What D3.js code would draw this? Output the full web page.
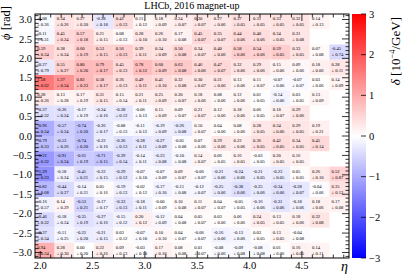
<!DOCTYPE html>
<html><head><meta charset="utf-8">
<script src="https://cdn.jsdelivr.net/npm/d3@7"></script>
<style>body{margin:0;background:#fff} svg{display:block}</style>
</head><body><svg id="c" width="407" height="276"></svg>
<script>
// ---- data ----
const etaEdges = [1.95,2.1375,2.325,2.5125,2.7,2.8875,3.075,3.2625,3.45,3.6375,3.825,4.0125,4.2,4.3875,4.575,4.7625,4.95];
const phiEdges = [3.1416,2.7489,2.3562,1.9635,1.5708,1.1781,0.7854,0.3927,0,-0.3927,-0.7854,-1.1781,-1.5708,-1.9635,-2.3562,-2.7489,-3.1416];
// rows from top (phi high) to bottom; null = empty bin
const delta = [
 [-0.08,0.34,0.27,-0.28,0.41,0.11,0.18,0.24,0.30,0.27,0.37,0.31,0.33,0.32,0.14,null],
 [-0.11,0.45,0.57,0.21,0.08,0.28,0.26,0.17,0.45,0.35,0.44,0.40,0.34,0.31,null,null],
 [0.59,0.38,0.60,0.53,0.56,0.39,0.34,0.50,0.34,0.40,0.58,0.54,0.59,0.33,0.07,-0.45],
 [-0.27,0.55,0.80,0.79,0.45,0.78,0.60,0.63,0.46,0.47,0.32,0.29,0.15,0.09,0.18,0.28],
 [1.58,1.27,0.82,0.58,0.36,0.49,0.41,0.32,0.30,0.31,0.13,0.11,-0.07,-0.07,0.03,0.14],
 [0.28,0.13,0.17,0.31,0.15,0.21,0.25,0.20,0.18,0.08,0.12,0.01,-0.14,0.03,0.13,null],
 [-0.37,-0.36,-0.17,-0.24,-0.28,-0.06,0.15,0.09,0.21,0.12,0.18,0.06,0.18,0.29,null,null],
 [-0.96,-0.57,-0.74,-0.26,-0.08,-0.11,-0.19,-0.26,0.10,0.04,0.08,0.28,0.34,0.29,0.19,null],
 [-0.79,-0.53,-0.74,-0.22,-0.36,-0.28,-0.27,-0.05,0.07,0.29,0.22,0.36,0.42,0.34,0.45,null],
 [-1.21,-0.91,-0.61,-0.71,-0.39,-0.14,-0.23,-0.10,0.14,0.06,0.16,-0.03,0.20,0.16,null,null],
 [-1.29,-0.18,-0.41,-0.22,-0.29,-0.07,-0.07,0.09,-0.06,-0.21,-0.24,-0.21,-0.23,0.05,0.26,0.52],
 [-0.82,-0.44,-0.14,0.05,-0.19,-0.02,-0.17,-0.11,-0.12,-0.25,-0.38,-0.25,-0.34,-0.28,-0.04,0.35],
 [-0.16,0.14,-0.53,-0.17,-0.33,-0.18,-0.00,0.10,0.11,0.04,-0.05,-0.16,-0.31,-0.18,0.18,0.17],
 [-0.46,-0.18,-0.35,-0.27,-0.15,0.20,-0.12,0.04,0.05,0.03,0.06,0.24,0.13,0.18,0.32,null],
 [-0.37,-0.11,-0.22,-0.21,0.03,-0.07,0.10,0.04,-0.06,-0.16,-0.13,0.03,0.13,-0.04,null,null],
 [0.94,0.28,0.00,0.22,0.09,-0.03,0.17,0.08,0.01,-0.08,-0.09,-0.08,0.01,0.16,0.14,null]
];
const sigma = [
 [0.36,0.26,0.20,0.18,0.13,0.12,0.09,0.07,0.07,0.06,0.05,0.05,0.05,0.05,0.13,null],
 [0.31,0.24,0.18,0.15,0.13,0.10,0.10,0.08,0.07,0.07,0.06,0.06,0.05,0.08,null,null],
 [0.34,0.24,0.19,0.15,0.13,0.11,0.09,0.08,0.07,0.06,0.06,0.06,0.05,0.05,0.08,0.74],
 [0.79,0.27,0.20,0.17,0.13,0.12,0.09,0.08,0.06,0.07,0.06,0.06,0.06,0.06,0.06,0.11],
 [0.62,0.24,0.23,0.17,0.13,0.11,0.10,0.08,0.07,0.06,0.06,0.07,0.06,0.07,0.06,0.09],
 [0.36,0.28,0.19,0.15,0.14,0.11,0.09,0.07,0.06,0.06,0.06,0.05,0.06,0.05,0.09,null],
 [0.32,0.24,0.19,0.16,0.12,0.12,0.09,0.07,0.07,0.06,0.06,0.05,0.07,0.06,null,null],
 [0.34,0.24,0.20,0.17,0.13,0.12,0.09,0.08,0.07,0.06,0.06,0.05,0.06,0.05,0.21,null],
 [0.33,0.26,0.20,0.16,0.13,0.11,0.09,0.08,0.06,0.06,0.06,0.05,0.05,0.05,0.14,null],
 [0.32,0.24,0.19,0.15,0.14,0.11,0.08,0.08,0.07,0.05,0.05,0.05,0.05,0.05,null,null],
 [0.33,0.24,0.21,0.15,0.12,0.10,0.09,0.07,0.07,0.06,0.06,0.05,0.05,0.05,0.10,0.87],
 [0.68,0.27,0.21,0.16,0.13,0.12,0.10,0.08,0.07,0.06,0.06,0.06,0.06,0.07,0.06,0.12],
 [0.57,0.29,0.21,0.17,0.13,0.11,0.09,0.08,0.07,0.07,0.05,0.06,0.06,0.06,0.06,0.08],
 [0.32,0.24,0.19,0.16,0.12,0.12,0.09,0.08,0.07,0.06,0.06,0.05,0.05,0.06,0.08,null],
 [0.34,0.25,0.20,0.15,0.12,0.10,0.10,0.07,0.07,0.06,0.06,0.05,0.05,0.08,null,null],
 [0.34,0.30,0.20,0.16,0.13,0.10,0.10,0.08,0.07,0.06,0.08,0.08,0.06,0.05,0.11,null]
];
const xTicks = [2.0,2.5,3.0,3.5,4.0,4.5];
const yTicks = [-3.0,-2.5,-2.0,-1.5,-1.0,-0.5,0.0,0.5,1.0,1.5,2.0,2.5,3.0];
const zTicks = [-3,-2,-1,0,1,2,3];
const title = "LHCb, 2016 magnet-up";

// ---- layout ----
const svg = d3.select("#c");
const L=35, R=349, T=14, B=258;
const serif = "'Liberation Serif','DejaVu Serif',serif";
const x = d3.scaleLinear().domain([etaEdges[0], etaEdges[etaEdges.length-1]]).range([L,R]);
const y = d3.scaleLinear().domain([-Math.PI, Math.PI]).range([B,T]);
const color = d3.scaleLinear().domain([-3,0,3]).range(["#0000ff","#ffffff","#ff0000"]).clamp(true);
const fmt = v => (v<0||Object.is(v,-0)?"-":"")+Math.abs(v).toFixed(2);

const cells = [];
delta.forEach((row,i)=>row.forEach((v,j)=>{ if(v!==null) cells.push({i,j,v,s:sigma[i][j]}); }));

const g = svg.append("g");
g.selectAll("rect.cell").data(cells).join("rect").attr("class","cell")
  .attr("x",d=>x(etaEdges[d.j])).attr("width",d=>x(etaEdges[d.j+1])-x(etaEdges[d.j]))
  .attr("y",d=>y(phiEdges[d.i])).attr("height",d=>y(phiEdges[d.i+1])-y(phiEdges[d.i]))
  .attr("fill",d=>color(d.v));
const txt = g.selectAll("g.lab").data(cells).join("g").attr("class","lab")
  .attr("font-family",serif).attr("font-size",4.6).attr("fill","#000");
txt.append("text").attr("x",d=>x(etaEdges[d.j])+2.2).attr("y",d=>y(phiEdges[d.i])+6.0).text(d=>fmt(d.v));
txt.append("text").attr("x",d=>x(etaEdges[d.j])+2.2).attr("y",d=>y(phiEdges[d.i])+12.0).text(d=>"± "+d.s.toFixed(2));

// frame
svg.append("rect").attr("x",L).attr("y",T).attr("width",R-L).attr("height",B-T)
  .attr("fill","none").attr("stroke","#000").attr("stroke-width",1);

// ticks (inside, all four sides)
const xMinor = d3.range(20,50).map(k=>k/10).filter(v=>v>=x.domain()[0]&&v<=x.domain()[1]);
const yMinor = d3.range(-31,32).map(k=>k/10);
const tk = svg.append("g").attr("stroke","#000").attr("stroke-width",0.8);
xMinor.forEach(v=>{
  const big = xTicks.some(t=>Math.abs(t-v)<1e-6), len = big?7:3.5;
  tk.append("line").attr("x1",x(v)).attr("x2",x(v)).attr("y1",B).attr("y2",B-len);
  tk.append("line").attr("x1",x(v)).attr("x2",x(v)).attr("y1",T).attr("y2",T+len);
});
yMinor.forEach(v=>{
  const big = yTicks.some(t=>Math.abs(t-v)<1e-6), len = big?7:3.5;
  tk.append("line").attr("y1",y(v)).attr("y2",y(v)).attr("x1",L).attr("x2",L+len);
  tk.append("line").attr("y1",y(v)).attr("y2",y(v)).attr("x1",R).attr("x2",R-len);
});
svg.append("g").selectAll("text").data(xTicks).join("text")
  .attr("x",d=>x(d)).attr("y",B+11).attr("text-anchor","middle")
  .attr("font-family",serif).attr("font-size",10.5).text(d=>d.toFixed(1));
svg.append("g").selectAll("text").data(yTicks).join("text")
  .attr("x",L-3).attr("y",d=>y(d)+3.6).attr("text-anchor","end")
  .attr("font-family",serif).attr("font-size",10.5).text(d=>(d<0?"\u2212":"")+Math.abs(d).toFixed(1));

// axis titles
svg.append("text").attr("x",R-1).attr("y",271).attr("text-anchor","end")
  .attr("font-family",serif).attr("font-size",14).attr("font-style","italic").text("\u03b7");
const yt = svg.append("text").attr("transform",`translate(10,6) rotate(-90)`).attr("text-anchor","end")
  .attr("font-family",serif).attr("font-size",12.5);
yt.append("tspan").attr("font-style","italic").text("\u03d5");
yt.append("tspan").text(" [rad]");

// title
svg.append("text").attr("x",192).attr("y",9).attr("text-anchor","middle")
  .attr("font-family",serif).attr("font-size",10).text(title);

// colorbar
const cbL=352, cbR=366;
const zs = d3.scaleLinear().domain([-3,3]).range([B,T]);
const grad = svg.append("defs").append("linearGradient").attr("id","cb")
  .attr("x1",0).attr("y1",1).attr("x2",0).attr("y2",0);
grad.selectAll("stop").data(zTicks).join("stop")
  .attr("offset",d=>(d+3)/6).attr("stop-color",d=>color(d));
svg.append("rect").attr("x",cbL).attr("y",T).attr("width",cbR-cbL).attr("height",B-T).attr("fill","url(#cb)");
svg.append("g").selectAll("line").data(zTicks).join("line")
  .attr("x1",cbR).attr("x2",cbR-5).attr("y1",d=>zs(d)).attr("y2",d=>zs(d)).attr("stroke","#000").attr("stroke-width",0.8);
svg.append("g").selectAll("text").data(zTicks).join("text")
  .attr("x",cbR+3).attr("y",d=>zs(d)+3.6)
  .attr("font-family",serif).attr("font-size",10.5).text(d=>(d<0?"\u2212":"")+Math.abs(d));
const zt = svg.append("text").attr("transform",`translate(400,${T+3}) rotate(-90)`).attr("text-anchor","end")
  .attr("font-family",serif).attr("font-size",13);
zt.append("tspan").attr("font-style","italic").text("\u03b4");
zt.append("tspan").text(" [10");
zt.append("tspan").attr("baseline-shift","super").attr("font-size",8.5).text("\u22124");
zt.append("tspan").text("/GeV]");
</script></body></html>
